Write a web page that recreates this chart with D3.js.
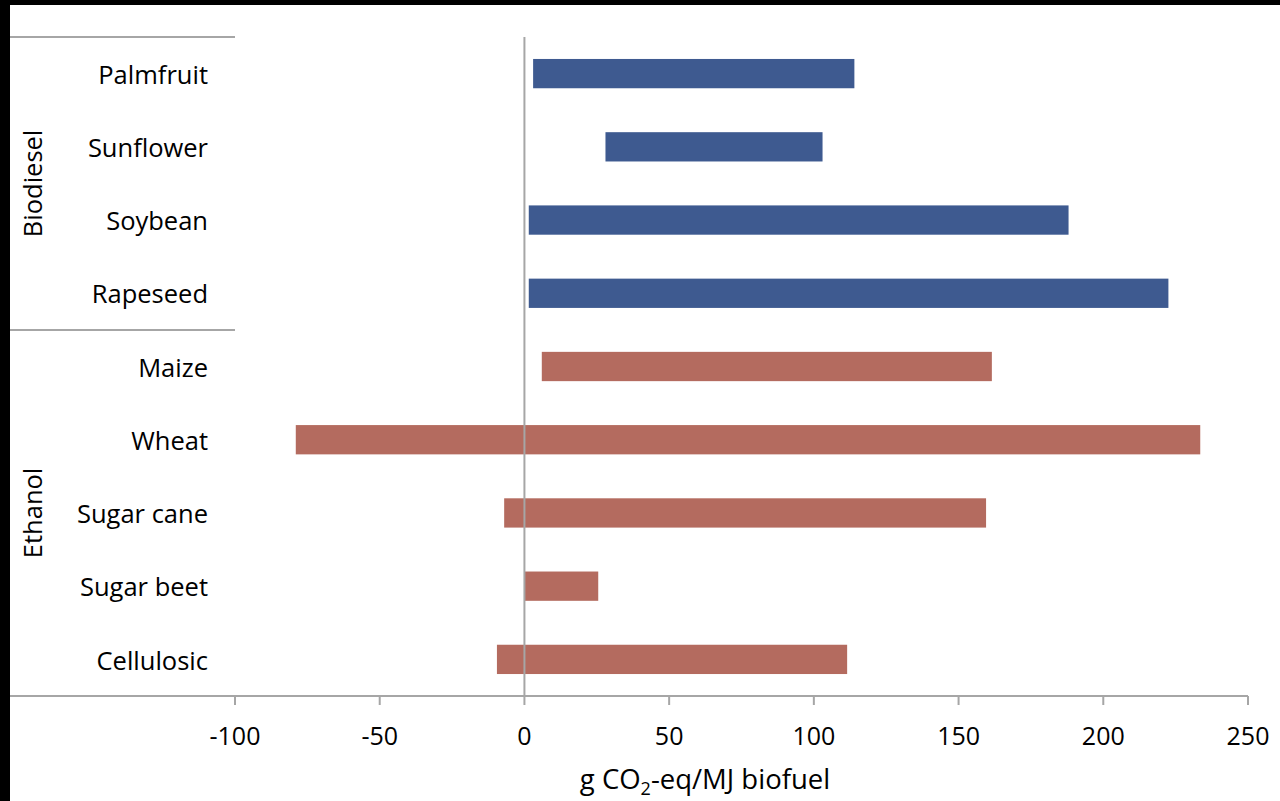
<!DOCTYPE html>
<html>
<head>
<meta charset="utf-8">
<script src="https://cdn.jsdelivr.net/npm/d3@7"></script>
<style>
  body { margin: 0; background: #000; }
  svg { display: block; }
  text { font-family: "Open Sans", "Noto Sans", sans-serif; fill: #000; }
</style>
</head>
<body>
<div class="chart"></div>
<script>
// data
var crops = ["Palmfruit", "Sunflower", "Soybean", "Rapeseed", "Maize", "Wheat", "Sugar cane", "Sugar beet", "Cellulosic"];
var groups = ["Biodiesel", "Biodiesel", "Biodiesel", "Biodiesel", "Ethanol", "Ethanol", "Ethanol", "Ethanol", "Ethanol"];
var lowValues = [3, 28, 1.5, 1.5, 6, -79, -7, 0, -9.5];
var highValues = [114, 103, 188, 222.5, 161.5, 233.5, 159.5, 25.5, 111.5];
var xTicks = [-100, -50, 0, 50, 100, 150, 200, 250];
var groupNames = ["Biodiesel", "Ethanol"];
var colors = {Biodiesel: "#3e5a90", Ethanol: "#b46b5f"};

var width = 1280, height = 801;
var margin = {top: 37, left: 235, right: 32, bottom: 105};
var axisLeft = 10;

var svg = d3.select(".chart").append("svg")
    .attr("width", width)
    .attr("height", height);

// white page inside the black frame
svg.append("rect")
    .attr("x", 10).attr("y", 5)
    .attr("width", width - 10).attr("height", height - 5)
    .attr("fill", "#fff");

var x = d3.scaleLinear()
    .domain([-100, 250])
    .range([margin.left, width - margin.right]);

var y = d3.scaleBand()
    .domain(crops)
    .range([margin.top, height - margin.bottom])
    .paddingInner(0.6)
    .paddingOuter(0.3);

var rows = crops.map(function(c, i) {
  return {crop: c, group: groups[i], lo: lowValues[i], hi: highValues[i]};
});

// bars
svg.selectAll(".bar")
    .data(rows)
  .enter().append("rect")
    .attr("class", "bar")
    .attr("x", function(d) { return x(d.lo); })
    .attr("y", function(d) { return y(d.crop); })
    .attr("width", function(d) { return x(d.hi) - x(d.lo); })
    .attr("height", y.bandwidth())
    .attr("fill", function(d) { return colors[d.group]; });

// zero line
svg.append("line")
    .attr("x1", x(0)).attr("x2", x(0))
    .attr("y1", margin.top).attr("y2", height - margin.bottom)
    .attr("stroke", "#a6a6a6")
    .attr("stroke-width", 2);

// bottom axis
var axisY = height - margin.bottom;
var xAxis = svg.append("g")
    .attr("transform", "translate(0," + axisY + ")");

xAxis.append("line")
    .attr("x1", axisLeft).attr("x2", x(250))
    .attr("stroke", "#a6a6a6").attr("stroke-width", 2);

var tick = xAxis.selectAll(".tick")
    .data(xTicks)
  .enter().append("g")
    .attr("class", "tick")
    .attr("transform", function(d) { return "translate(" + x(d) + ",0)"; });

tick.append("line")
    .attr("y2", 9)
    .attr("stroke", "#a6a6a6").attr("stroke-width", 2);

tick.append("text")
    .attr("y", 40)
    .attr("dy", ".36em")
    .attr("text-anchor", "middle")
    .style("font-size", "25px")
    .text(function(d) { return d; });

// axis title
var title = svg.append("text")
    .attr("x", 705)
    .attr("y", 789)
    .attr("text-anchor", "middle")
    .style("font-size", "27.5px");
title.append("tspan").text("g CO");
title.append("tspan").attr("dy", 6).style("font-size", "18px").text("2");
title.append("tspan").attr("dy", -6).text("-eq/MJ biofuel");

// category labels
svg.selectAll(".cat")
    .data(crops)
  .enter().append("text")
    .attr("class", "cat")
    .attr("x", 208)
    .attr("y", function(d) { return y(d) + y.bandwidth() / 2; })
    .attr("dy", ".4em")
    .attr("text-anchor", "end")
    .style("font-size", "25.5px")
    .text(function(d) { return d; });

// group separators and labels
var bounds = groupNames.map(function(g) {
  var items = crops.filter(function(c, i) { return groups[i] === g; });
  var half = y.step() * y.paddingInner() / 2;
  var first = items[0], last = items[items.length - 1];
  var top = first === crops[0] ? margin.top : y(first) - half;
  var bottom = last === crops[crops.length - 1] ? height - margin.bottom : y(last) + y.bandwidth() + half;
  return {name: g, top: top, bottom: bottom};
});

svg.selectAll(".sep")
    .data(bounds)
  .enter().append("line")
    .attr("class", "sep")
    .attr("x1", axisLeft).attr("x2", x(-100))
    .attr("y1", function(d) { return d.top; })
    .attr("y2", function(d) { return d.top; })
    .attr("stroke", "#a6a6a6").attr("stroke-width", 2);

svg.selectAll(".grp")
    .data(bounds)
  .enter().append("text")
    .attr("class", "grp")
    .attr("transform", function(d) { return "translate(33," + (d.top + d.bottom) / 2 + ") rotate(-90)"; })
    .attr("dy", ".35em")
    .attr("text-anchor", "middle")
    .style("font-size", "25.5px")
    .text(function(d) { return d.name; });
</script>
</body>
</html>
